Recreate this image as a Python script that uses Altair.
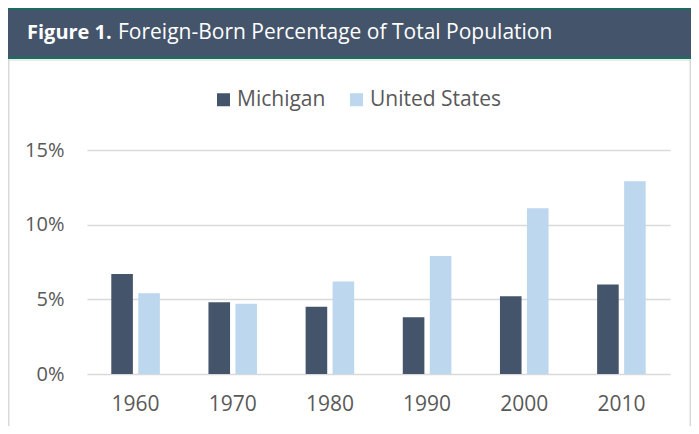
import altair as alt
import pandas as pd

years = ["1960", "1970", "1980", "1990", "2000", "2010"]
michigan = [6.7, 4.8, 4.5, 3.8, 5.2, 6.0]
united_states = [5.4, 4.7, 6.2, 7.9, 11.1, 12.9]
series = ["Michigan", "United States"]
colors = ["#44546A", "#BDD7EE"]
y_ticks = [0, 5, 10, 15]
title_bold = "Figure 1."
title_rest = "Foreign-Born Percentage of Total Population"

rows = []
for i, yr in enumerate(years):
    rows.append({"year": yr, "series": series[0], "value": michigan[i]})
    rows.append({"year": yr, "series": series[1], "value": united_states[i]})
df = pd.DataFrame(rows)

FONT = "Open Sans"
TXT = "#595959"
one = pd.DataFrame({"k": [0]})

def rect(x, x2, y, y2, color):
    return alt.Chart(one).mark_rect(color=color).encode(
        x=alt.value(x), x2=alt.value(x2), y=alt.value(y), y2=alt.value(y2))

header = rect(-79, 604, -142, -91, "#44546A")
green_top = rect(-79, 604, -142, -140.5, "#11735B")
green_bot = rect(-79, 604, -93, -91, "#11735B")
gray_under = rect(-79, 604, -90.5, -89.5, "#D9D9D9")
left_border = rect(-79, -77.5, -91, 276, "#D9D9D9")
right_border = rect(602.5, 604, -91, 276, "#D9D9D9")

t1 = alt.Chart(one).mark_text(align="left", baseline="alphabetic", font=FONT, fontSize=20,
                              fontWeight="bold", color="white", text=title_bold).encode(
    x=alt.value(-60), y=alt.value(-111))
t2 = alt.Chart(one).mark_text(align="left", baseline="alphabetic", font=FONT, fontSize=21,
                              color="white", text=title_rest).encode(
    x=alt.value(31), y=alt.value(-111))

bars = alt.Chart(df).mark_bar().encode(
    x=alt.X("year:N", sort=years, title=None,
            scale=alt.Scale(paddingInner=0.5, paddingOuter=0.25),
            axis=alt.Axis(labelAngle=0, domain=False, ticks=False, grid=False,
                          labelFontSize=21, labelColor=TXT, labelFont=FONT, labelPadding=19)),
    xOffset=alt.XOffset("series:N", sort=series, scale=alt.Scale(paddingInner=0.2)),
    y=alt.Y("value:Q", title=None, scale=alt.Scale(domain=[0, 15], nice=False),
            axis=alt.Axis(values=y_ticks, labelExpr="datum.value + '%'", domain=False, ticks=False,
                          gridColor="#D9D9D9", gridWidth=1.5, labelFontSize=20, labelColor=TXT,
                          labelFont=FONT, labelPadding=23)),
    color=alt.Color("series:N", sort=series, scale=alt.Scale(domain=series, range=colors),
                    legend=alt.Legend(title=None, orient="none", legendX=126, legendY=-61,
                                      direction="horizontal", symbolType="square", symbolSize=169,
                                      symbolStrokeWidth=0, labelFontSize=21, labelFont=FONT,
                                      labelColor=TXT, labelOffset=3, columnPadding=20, padding=0)),
)

chart = alt.layer(header, green_top, green_bot, gray_under, left_border, right_border, t1, t2, bars).properties(
    width=583, height=224,
    padding={"left": 79, "top": 142, "right": 21, "bottom": 52},
    autosize=alt.AutoSizeParams(type="none"),
).configure_view(stroke=None)

chart.save("out.html", embed_options={"renderer": "svg", "actions": False})
